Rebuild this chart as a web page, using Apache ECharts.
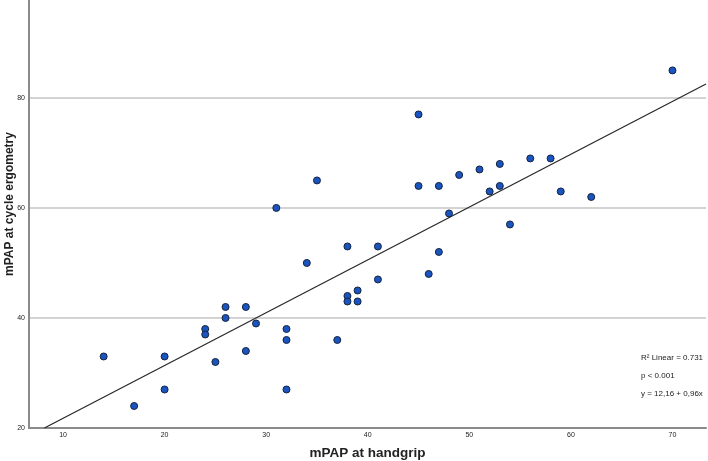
<!DOCTYPE html>
<html>
    <head>
        <meta http-equiv="Content-Type" content="text/html; charset=utf-8" />
        <title>mPAP scatter</title>
        <script type="text/javascript" src="https://cdn.jsdelivr.net/npm/echarts@6/dist/echarts.min.js"></script>
        <style>
            body { margin: 0; background: #fff; }
        </style>
    </head>

    <body>
        <div style="width:708px;height:461px;" id="main"></div>
        <script type="text/javascript">
            // mPAP at handgrip (x) vs mPAP at cycle ergometry (y)
            var handgrip = [14, 17, 20, 20, 24, 24, 25, 26, 26, 28, 28, 29, 32, 32, 32,
                            37, 31, 35, 34, 38, 38, 38, 39, 39, 41, 41, 45, 45, 47, 47,
                            46, 48, 49, 51, 52, 53, 53, 54, 56, 58, 59, 62, 70];
            var ergometry = [33, 24, 33, 27, 38, 37, 32, 42, 40, 42, 34, 39, 38, 36, 27,
                             36, 60, 65, 50, 53, 44, 43, 45, 43, 53, 47, 77, 64, 64, 52,
                             48, 59, 66, 67, 63, 68, 64, 57, 69, 69, 63, 62, 85];
            var xTicks = [10, 20, 30, 40, 50, 60, 70];
            var yTicks = [20, 40, 60, 80];
            // fit line from the figure: y = 12,16 + 0,96x
            var intercept = 12.16;
            var slope = 0.96;
            var notes = ['R\u00b2 Linear = 0.731', 'p < 0.001', 'y = 12,16 + 0,96x'];

            var xMin = 6.65, xMax = 73.3, yMin = 20, yMax = 97.8;

            var points = handgrip.map(function (x, i) {
                return [x, ergometry[i]];
            });
            // line runs from the bottom of the plot to the right edge
            var fitLine = [
                [(yMin - intercept) / slope, yMin],
                [xMax, intercept + slope * xMax]
            ];

            var myChart = echarts.init(document.getElementById('main'));
            var font = '"Liberation Sans", Arial, sans-serif';

            var option = {
                backgroundColor: '#ffffff',
                animation: false,
                grid: { left: 29, right: 2, top: 0, bottom: 33, outerBoundsMode: 'none', containLabel: false },
                xAxis: {
                    type: 'value',
                    min: xMin,
                    max: xMax,
                    name: 'mPAP at handgrip',
                    nameLocation: 'middle',
                    nameGap: 18,
                    nameMoveOverlap: false,
                    nameTextStyle: { fontFamily: font, fontWeight: 'bold', fontSize: 13.5, color: '#222', verticalAlign: 'top' },
                    axisLine: { lineStyle: { color: '#8a8a8a', width: 2 } },
                    axisTick: { show: false },
                    axisLabel: { customValues: xTicks, fontFamily: font, fontSize: 7, color: '#222', margin: 4 },
                    splitLine: { show: false }
                },
                yAxis: {
                    type: 'value',
                    min: yMin,
                    max: yMax,
                    name: 'mPAP at cycle ergometry',
                    nameLocation: 'middle',
                    nameGap: 13,
                    nameMoveOverlap: false,
                    nameTextStyle: { fontFamily: font, fontWeight: 'bold', fontSize: 12, color: '#222', padding: [0, 0, 0, 20] },
                    axisLine: { show: true, lineStyle: { color: '#8a8a8a', width: 2 } },
                    axisTick: { show: false, customValues: yTicks },
                    axisLabel: { customValues: yTicks, fontFamily: font, fontSize: 7, color: '#222', margin: 4 },
                    splitLine: { show: true, lineStyle: { color: '#c4c4c4', width: 1.5 } }
                },
                graphic: notes.map(function (t, i) {
                    return {
                        type: 'text',
                        left: 641,
                        top: 354 + i * 18,
                        style: { text: t, fontFamily: font, fontSize: 8, fill: '#222' }
                    };
                }),
                series: [
                    {
                        type: 'line',
                        data: fitLine,
                        symbol: 'none',
                        lineStyle: { color: '#2a2a2a', width: 1.3 },
                        z: 2
                    },
                    {
                        type: 'scatter',
                        data: points,
                        symbol: 'circle',
                        symbolSize: 7,
                        itemStyle: { color: '#1a55bf', borderColor: '#15233f', borderWidth: 1, opacity: 1 },
                        z: 3
                    }
                ]
            };
            myChart.setOption(option);
        </script>
    </body>
</html>
